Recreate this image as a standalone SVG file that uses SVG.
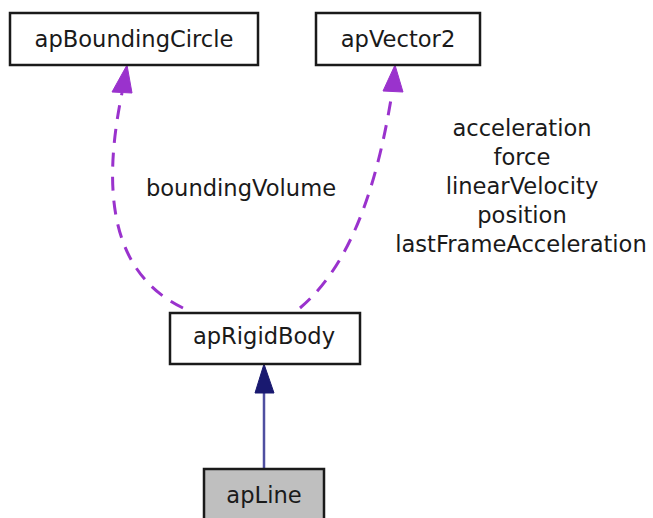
<svg xmlns="http://www.w3.org/2000/svg" width="653" height="518" viewBox="0 0 653 518">
  <style>
    .box { fill: #ffffff; stroke: #1a1a1a; stroke-width: 2.5; }
    .current { fill: #bfbfbf; }
    .label { font-family: "DejaVu Sans", "Liberation Sans", sans-serif; font-size: 22.6px; fill: #1a1a1a; text-anchor: middle; }
    .usage { fill: none; stroke: #9a32cd; stroke-width: 3; stroke-dasharray: 14 10; }
    .usage-head { fill: #9a32cd; stroke: #9a32cd; stroke-width: 1; }
    .inherit { fill: none; stroke: #4f4fa0; stroke-width: 2.5; }
    .inherit-head { fill: #191970; stroke: #191970; stroke-width: 1; }
  </style>

  <!-- connectors -->
  <g id="edges">
    <!-- apRigidBody uses apBoundingCircle -->
    <path class="usage" d="M183,308 C115,275 100,200 122,93"/>
    <polygon class="usage-head" points="127,65 132,93 112,92"/>
    <text class="label" x="241" y="196">boundingVolume</text>

    <!-- apRigidBody uses apVector2 -->
    <path class="usage" d="M300,308 C345,270 375,200 392,93"/>
    <polygon class="usage-head" points="395,65 403,92 383,91"/>
    <text class="label" x="522" y="136">acceleration</text>
    <text class="label" x="522" y="165">force</text>
    <text class="label" x="522" y="194">linearVelocity</text>
    <text class="label" x="522" y="223">position</text>
    <text class="label" x="521" y="252">lastFrameAcceleration</text>

    <!-- apLine derives from apRigidBody -->
    <line class="inherit" x1="264" y1="469" x2="264" y2="392"/>
    <polygon class="inherit-head" points="264,364 274,393 255,393"/>
  </g>

  <g id="apBoundingCircle">
    <rect class="box" x="10" y="13" width="248" height="52"/>
    <text class="label" x="134" y="47">apBoundingCircle</text>
  </g>

  <g id="apVector2">
    <rect class="box" x="316" y="13" width="164" height="52"/>
    <text class="label" x="398" y="47">apVector2</text>
  </g>

  <g id="apRigidBody">
    <rect class="box" x="170" y="313" width="190" height="51"/>
    <text class="label" x="264" y="344">apRigidBody</text>
  </g>

  <g id="apLine">
    <rect class="box current" x="204" y="469" width="120" height="52"/>
    <text class="label" x="264" y="503">apLine</text>
  </g>
</svg>
